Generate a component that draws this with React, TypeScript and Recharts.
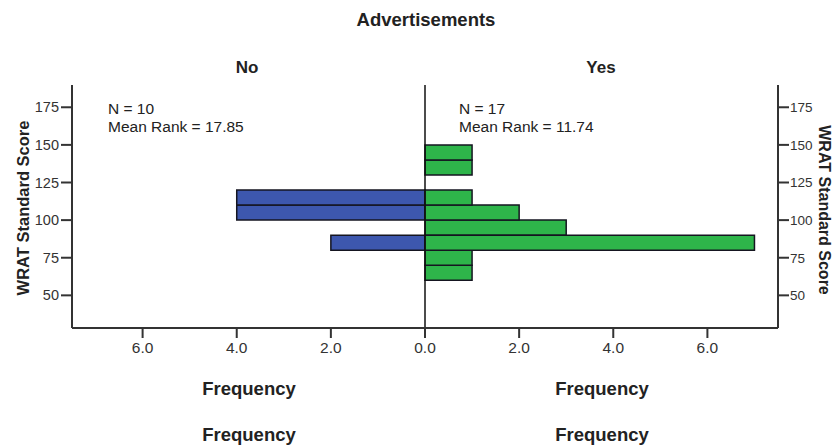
import React from "react";
import {
  ComposedChart, Bar, XAxis, YAxis, ReferenceLine,
} from "recharts";

// histogram bins of WRAT Standard Score (lower edge, width 10)
const binStarts = [60, 70, 80, 90, 100, 110, 120, 130, 140];
const noCounts = [0, 0, 2, 0, 4, 4, 0, 0, 0];
const yesCounts = [1, 1, 7, 3, 2, 1, 0, 1, 1];

const scoreTicks = [50, 75, 100, 125, 150, 175];
const freqTicks = [-6, -4, -2, 0, 2, 4, 6];

const groups = ["No", "Yes"];
const groupN = [10, 17];
const meanRanks = ["17.85", "11.74"];

const FONT = '"Liberation Sans", Arial, sans-serif';
const TEXT = "#222";

const chartData = binStarts.map((s, i) => ({
  mid: s + 5,
  no: -noCounts[i],
  yes: yesCounts[i],
  edge: 0,
}));

const tickY = { fill: "#333", fontSize: 14.5, fontFamily: FONT };
const tickYRight = { fill: "#333", fontSize: 13.5, fontFamily: FONT };
const tickX = { fill: "#333", fontSize: 15.5, fontFamily: FONT };

export default function App() {
  return (
    <div style={{ position: "absolute", left: 0, top: 0, width: 833, height: 446, background: "#fff" }}>
      <ComposedChart
        width={833}
        height={446}
        data={chartData}
        layout="vertical"
        stackOffset="sign"
        margin={{ top: 85, right: 15, bottom: 78, left: 22 }}
      >
        <XAxis
          type="number"
          domain={[-7.5, 7.5]}
          ticks={freqTicks}
          tickFormatter={(v: number) => Math.abs(v).toFixed(1)}
          tick={tickX}
          tickSize={10}
          tickMargin={4}
          height={40}
          stroke="#333"
          strokeWidth={2}
          allowDataOverflow
        />
        <XAxis
          xAxisId="top"
          orientation="top"
          type="number"
          domain={[-7.5, 7.5]}
          tick={false}
          tickLine={false}
          height={0}
          stroke="#333"
          strokeWidth={2}
        />
        <YAxis
          type="number"
          dataKey="mid"
          reversed
          domain={[28.3, 189.8]}
          ticks={scoreTicks}
          tick={tickY}
          tickSize={11}
          tickMargin={2}
          width={50}
          stroke="#333"
          strokeWidth={2}
          allowDataOverflow
        />
        <YAxis
          yAxisId="right"
          orientation="right"
          type="number"
          dataKey="mid"
          reversed
          domain={[28.3, 189.8]}
          ticks={scoreTicks}
          tick={tickYRight}
          tickSize={11}
          tickMargin={1}
          width={40}
          stroke="#333"
          strokeWidth={2}
          allowDataOverflow
        />
        <Bar dataKey="no" stackId="a" barSize={15} fill="#3d57ae" stroke="#151520" strokeWidth={1.5} isAnimationActive={false} />
        <Bar dataKey="yes" stackId="a" barSize={15} fill="#2eb54a" stroke="#151520" strokeWidth={1.5} isAnimationActive={false} />
        <Bar dataKey="edge" yAxisId="right" barSize={1} fill="none" stroke="none" isAnimationActive={false} />
        <ReferenceLine x={0} stroke="#111" strokeWidth={1.5} />
      </ComposedChart>

      <svg width={833} height={446} style={{ position: "absolute", left: 0, top: 0, pointerEvents: "none" }}>
        <g fontFamily={FONT} fill={TEXT}>
          <text x={426} y={26} textAnchor="middle" fontSize={18.5} fontWeight="bold">Advertisements</text>
          <text x={247} y={73} textAnchor="middle" fontSize={17} fontWeight="bold">{groups[0]}</text>
          <text x={601} y={73} textAnchor="middle" fontSize={17} fontWeight="bold">{groups[1]}</text>

          <text x={108} y={114} fontSize={15.5}>{`N = ${groupN[0]}`}</text>
          <text x={108} y={132} fontSize={15.5}>{`Mean Rank = ${meanRanks[0]}`}</text>
          <text x={459} y={114} fontSize={15.5}>{`N = ${groupN[1]}`}</text>
          <text x={459} y={132} fontSize={15.5}>{`Mean Rank = ${meanRanks[1]}`}</text>

          <text transform="translate(29,208) rotate(-90)" textAnchor="middle" fontSize={16.5} fontWeight="bold">WRAT Standard Score</text>
          <text transform="translate(819,210) rotate(90)" textAnchor="middle" fontSize={16} fontWeight="bold">WRAT Standard Score</text>

          <text x={249} y={395} textAnchor="middle" fontSize={18.5} fontWeight="bold">Frequency</text>
          <text x={602} y={395} textAnchor="middle" fontSize={18.5} fontWeight="bold">Frequency</text>
          <text x={249} y={441} textAnchor="middle" fontSize={18.5} fontWeight="bold">Frequency</text>
          <text x={602} y={441} textAnchor="middle" fontSize={18.5} fontWeight="bold">Frequency</text>
        </g>
      </svg>
    </div>
  );
}
